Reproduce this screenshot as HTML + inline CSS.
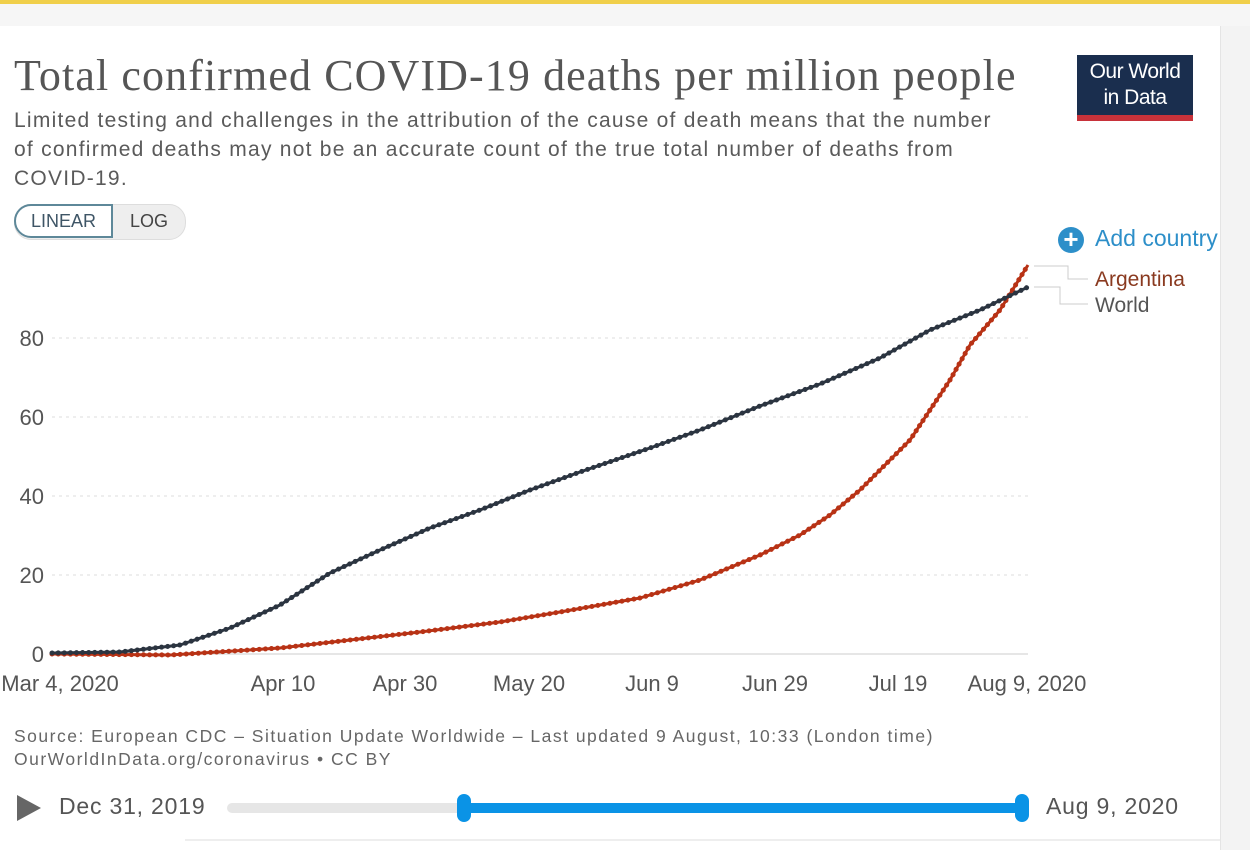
<!DOCTYPE html>
<html><head><meta charset="utf-8"><style>
body{margin:0;width:1250px;height:850px;background:#fff;position:relative;overflow:hidden;font-family:"Liberation Sans",sans-serif;color:#555}
.abs{position:absolute}
</style></head><body>
<div class="abs" style="left:0;top:0;width:1250px;height:4px;background:#f0cf4a"></div>
<div class="abs" style="left:0;top:4px;width:1250px;height:22px;background:#f6f6f6"></div>
<div class="abs" style="left:14px;top:50px;font-family:'Liberation Serif',serif;font-size:44px;color:#555;white-space:nowrap;letter-spacing:1.1px">Total confirmed COVID-19 deaths per million people</div>
<div class="abs" style="left:14px;top:106px;font-size:21px;line-height:29px;color:#5a5a5a;width:1040px;letter-spacing:1.25px;white-space:nowrap">Limited testing and challenges in the attribution of the cause of death means that the number<br>of confirmed deaths may not be an accurate count of the true total number of deaths from<br>COVID-19.</div>
<div class="abs" style="left:1077px;top:55px;width:116px;height:60px;background:#1a2e4e;color:#fff;font-size:21px;line-height:26px;text-align:center;padding-top:4px;box-sizing:border-box;letter-spacing:-0.5px">Our World<br>in Data</div>
<div class="abs" style="left:1077px;top:115px;width:116px;height:6px;background:#c8323a"></div>
<div class="abs" style="left:14px;top:204px;width:170px;height:34px;border-radius:17px;background:#eee;border:1px solid #ddd"></div>
<div class="abs" style="left:14px;top:204px;width:99px;height:34px;border-radius:17px 0 0 17px;background:#fff;border:2px solid #5e8899;box-sizing:border-box;font-size:18px;line-height:30px;text-align:center;color:#3e5566">LINEAR</div>
<div class="abs" style="left:130px;top:211px;font-size:18px;color:#444">LOG</div>
<div class="abs" style="left:1058px;top:227px;width:26px;height:26px;border-radius:50%;background:#2d8fc9;color:#fff;font-size:26px;line-height:25px;text-align:center;font-weight:bold">+</div>
<div class="abs" style="left:1095px;top:225px;font-size:23px;color:#2d8fc9;white-space:nowrap">Add country</div>
<div class="abs" style="left:1220px;top:26px;width:30px;height:824px;background:#f3f3f3;border-left:1px solid #e4e4e4"></div>
<svg class="abs" style="left:0;top:0" width="1250" height="850">
<g stroke="#ddd" stroke-dasharray="3,4" stroke-width="1">
<line x1="52" x2="1028" y1="338" y2="338"/><line x1="52" x2="1028" y1="417" y2="417"/><line x1="52" x2="1028" y1="496" y2="496"/><line x1="52" x2="1028" y1="575" y2="575"/>
</g>
<line x1="52" x2="1028" y1="654" y2="654" stroke="#ccc"/>
<g font-size="22" fill="#555" font-family="Liberation Sans,sans-serif">
<text x="44" y="346" text-anchor="end">80</text><text x="44" y="425" text-anchor="end">60</text><text x="44" y="504" text-anchor="end">40</text><text x="44" y="583" text-anchor="end">20</text><text x="44" y="662" text-anchor="end">0</text>
<g text-anchor="middle"><text x="60" y="691">Mar 4, 2020</text><text x="283" y="691">Apr 10</text><text x="405" y="691">Apr 30</text><text x="529" y="691">May 20</text><text x="652" y="691">Jun 9</text><text x="775" y="691">Jun 29</text><text x="898" y="691">Jul 19</text><text x="1027" y="691">Aug 9, 2020</text></g>
<text x="1095" y="286" fill="#8a3a20" font-size="21">Argentina</text>
<text x="1095" y="312" font-size="21">World</text>
</g>
<g stroke="#ccc" fill="none"><path d="M1034 266H1068V279H1088"/><path d="M1034 287H1060V304H1088"/></g>
<g fill="none" stroke-linejoin="round">
<polyline stroke="#b83215" stroke-width="3" points="52,654 170,655 280,648 350,640 420,632 500,622 560,612 640,598 700,580 760,555 800,535 830,515 860,490 880,470 910,440 930,410 950,380 970,345 1000,310 1028,265"/>
<polyline stroke="#b83215" stroke-width="5" stroke-dasharray="0.1,6" stroke-linecap="round" points="52,654 170,655 280,648 350,640 420,632 500,622 560,612 640,598 700,580 760,555 800,535 830,515 860,490 880,470 910,440 930,410 950,380 970,345 1000,310 1028,265"/>
<polyline stroke="#2b3440" stroke-width="3" points="52,653 120,652 180,645 230,628 280,605 330,573 380,550 430,528 480,510 530,490 580,472 650,448 700,430 760,406 820,384 880,358 930,330 980,310 1028,287"/>
<polyline stroke="#2b3440" stroke-width="5" stroke-dasharray="0.1,6" stroke-linecap="round" points="52,653 120,652 180,645 230,628 280,605 330,573 380,550 430,528 480,510 530,490 580,472 650,448 700,430 760,406 820,384 880,358 930,330 980,310 1028,287"/>
</g>
<polygon points="17,795 41,808 17,821" fill="#666"/>
<line x1="232" x2="464" y1="808" y2="808" stroke="#e6e6e6" stroke-width="10" stroke-linecap="round"/>
<line x1="464" x2="1022" y1="808" y2="808" stroke="#0a93e6" stroke-width="10"/>
<rect x="457" y="794" width="14" height="28" rx="7" fill="#0a93e6"/><rect x="1015" y="794" width="14" height="28" rx="7" fill="#0a93e6"/>
<line x1="185" x2="1220" y1="840" y2="840" stroke="#ddd"/>
</svg>
<div class="abs" style="left:14px;top:725px;font-size:17.5px;line-height:23px;color:#666;white-space:nowrap;letter-spacing:1.5px">Source: European CDC – Situation Update Worldwide – Last updated 9 August, 10:33 (London time)<br>OurWorldInData.org/coronavirus • CC BY</div>
<div class="abs" style="left:59px;top:793px;font-size:23px;color:#555;letter-spacing:0.8px">Dec 31, 2019</div>
<div class="abs" style="left:1046px;top:793px;font-size:23px;color:#555;letter-spacing:0.8px">Aug 9, 2020</div>
</body></html>
